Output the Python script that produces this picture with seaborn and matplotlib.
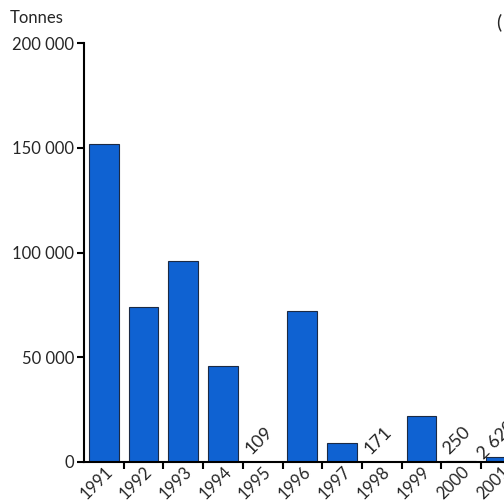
import matplotlib
matplotlib.use('Agg')
import matplotlib.pyplot as plt
import matplotlib.transforms as mtransforms
import matplotlib.ticker as mticker
import seaborn as sns
import pandas as pd
import numpy as np

# Data
years = ['1991', '1992', '1993', '1994', '1995', '1996', '1997', '1998', '1999', '2000', '2001']
tonnes = [152000, 74000, 96000, 46000, 109, 72000, 9000, 171, 22000, 250, 2620]
small_labels = {'1995': '109', '1998': '171', '2000': '250', '2001': '2 620'}
y_ticks = [0, 50000, 100000, 150000, 200000]

sns.set_style('white')
plt.rcParams['font.family'] = ['Lato', 'DejaVu Sans']

df = pd.DataFrame({'year': years, 'tonnes': tonnes})

fig = plt.figure(figsize=(5.04, 5.0), dpi=100)
# axes runs past the right edge like the cropped original
ax = fig.add_axes([84 / 504, 38 / 500, 11 * 39.7 / 504, 419 / 500])

sns.barplot(data=df, x='year', y='tonnes', color='#0f62d2', saturation=1,
            width=0.75, edgecolor='#1b2a44', linewidth=0.8, ax=ax)

ax.set_xlim(-0.5, len(years) - 0.5)
ax.set_ylim(0, 200000)
ax.set_xlabel('')
ax.set_ylabel('')

# y axis
ax.set_yticks(y_ticks)
ax.yaxis.set_major_formatter(mticker.FuncFormatter(
    lambda v, p: '0' if v == 0 else f'{int(v):,}'.replace(',', ' ')))
ax.tick_params(axis='y', direction='out', length=5, width=1.5, color='black',
               labelsize=12, pad=2, left=True)

# x axis: marks at slot boundaries, labels under bars
ax.set_xticks(np.arange(len(years)))
ax.set_xticklabels(years, rotation=45, ha='right', va='center',
                   rotation_mode='anchor', fontsize=12)
ax.set_xticks(np.arange(len(years)) + 0.5, minor=True)
ax.tick_params(axis='x', which='major', length=0, pad=5)
ax.tick_params(axis='x', which='minor', direction='out', length=5, width=1.5,
               color='black', bottom=True)
offset = mtransforms.ScaledTranslation(6 / 100, 0, fig.dpi_scale_trans)
for lab in ax.get_xticklabels():
    lab.set_transform(lab.get_transform() + offset)

for side in ['top', 'right']:
    ax.spines[side].set_visible(False)
for side in ['left', 'bottom']:
    ax.spines[side].set_linewidth(1.5)
    ax.spines[side].set_color('black')

# values for near-empty years
for i, y in enumerate(years):
    if y in small_labels:
        ax.text(i - 0.1, 10500, small_labels[y], rotation=45, ha='center',
                va='center', fontsize=13, clip_on=False)

fig.text(10 / 504, 1 - 18 / 500, 'Tonnes', fontsize=12, va='center', ha='left')
fig.text(496 / 504, 1 - 22 / 500, '(', fontsize=14, va='center', ha='left')

fig.savefig('out.png', dpi=100)
